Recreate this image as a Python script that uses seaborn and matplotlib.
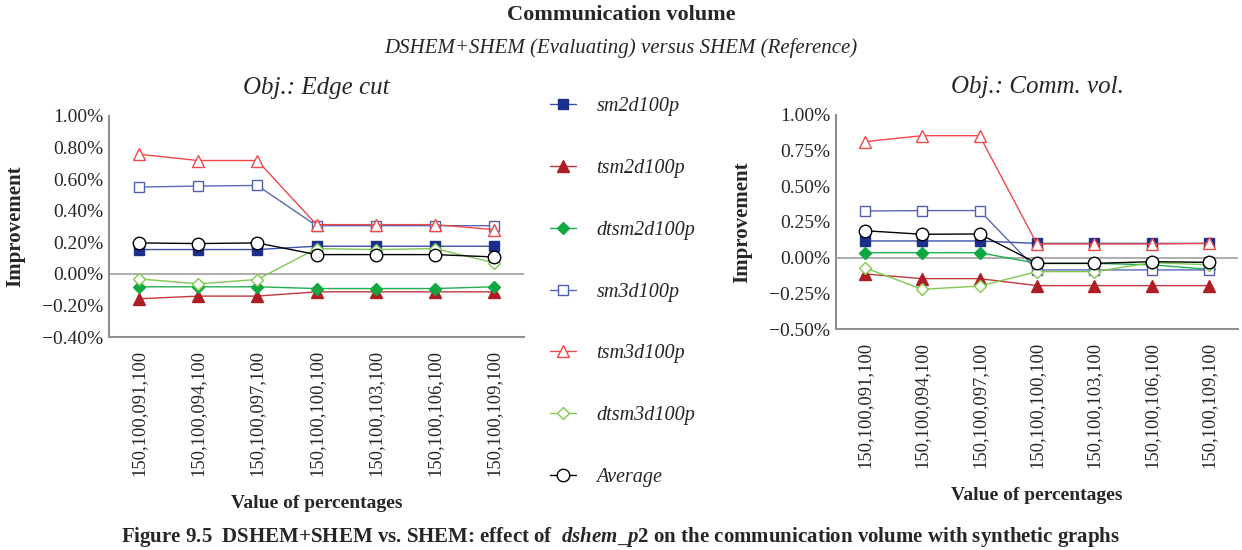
import matplotlib
matplotlib.use("Agg")
import matplotlib.pyplot as plt
import pandas as pd
import seaborn as sns

categories = ["150,100,091,100", "150,100,094,100", "150,100,097,100",
              "150,100,100,100", "150,100,103,100", "150,100,106,100",
              "150,100,109,100"]
series = ["sm2d100p", "tsm2d100p", "dtsm2d100p", "sm3d100p",
          "tsm3d100p", "dtsm3d100p", "Average"]

# improvement in percent, objective: edge cut
edge_sm2d = [0.154, 0.154, 0.154, 0.175, 0.175, 0.175, 0.175]
edge_tsm2d = [-0.158, -0.141, -0.141, -0.114, -0.114, -0.114, -0.114]
edge_dtsm2d = [-0.082, -0.082, -0.082, -0.093, -0.093, -0.093, -0.082]
edge_sm3d = [0.550, 0.556, 0.560, 0.305, 0.305, 0.305, 0.305]
edge_tsm3d = [0.758, 0.718, 0.718, 0.312, 0.312, 0.312, 0.280]
edge_dtsm3d = [-0.032, -0.063, -0.036, 0.160, 0.154, 0.160, 0.070]
edge_avg = [0.196, 0.192, 0.196, 0.122, 0.122, 0.122, 0.107]

# improvement in percent, objective: communication volume
comm_sm2d = [0.117, 0.117, 0.117, 0.100, 0.100, 0.100, 0.100]
comm_tsm2d = [-0.114, -0.147, -0.147, -0.196, -0.196, -0.196, -0.196]
comm_dtsm2d = [0.035, 0.035, 0.035, -0.040, -0.040, -0.050, -0.082]
comm_sm3d = [0.327, 0.330, 0.330, -0.086, -0.086, -0.086, -0.086]
comm_tsm3d = [0.813, 0.855, 0.855, 0.096, 0.096, 0.096, 0.100]
comm_dtsm3d = [-0.070, -0.222, -0.199, -0.098, -0.098, -0.035, -0.050]
comm_avg = [0.189, 0.164, 0.166, -0.040, -0.040, -0.028, -0.033]

edge_values = [edge_sm2d, edge_tsm2d, edge_dtsm2d, edge_sm3d, edge_tsm3d, edge_dtsm3d, edge_avg]
comm_values = [comm_sm2d, comm_tsm2d, comm_dtsm2d, comm_sm3d, comm_tsm3d, comm_dtsm3d, comm_avg]

# (line colour, marker, face colour, edge colour, marker size)
styles = {
    "sm2d100p": ("#3a50a8", "s", "#1c2f8c", "#1c2f8c", 7),
    "tsm2d100p": ("#c0383c", "^", "#b01c24", "#b01c24", 8),
    "dtsm2d100p": ("#20b050", "D", "#10a840", "#10a840", 6.5),
    "sm3d100p": ("#5868b8", "s", "white", "#5060b0", 7),
    "tsm3d100p": ("#f04848", "^", "white", "#f04848", 8),
    "dtsm3d100p": ("#80c850", "D", "white", "#80c850", 6.5),
    "Average": ("#000000", "o", "white", "#000000", 9),
}

SERIF = "Liberation Serif"


def long_df(values):
    rows = []
    for name, vals in zip(series, values):
        for cat, v in zip(categories, vals):
            rows.append({"series": name, "cat": cat, "value": v})
    return pd.DataFrame(rows)


def draw_panel(ax, values, ylim, yticks, title):
    df = long_df(values)
    for name in series:
        line, marker, face, edge, ms = styles[name]
        sns.lineplot(data=df[df["series"] == name], x="cat", y="value",
                     ax=ax, color=line, marker=marker, markersize=ms,
                     markerfacecolor=face, markeredgecolor=edge,
                     markeredgewidth=1.0, linewidth=1.0, label=name,
                     sort=False, legend=False)
    ax.axhline(0, color="#a0a0a0", linewidth=1.2, zorder=0)
    ax.set_xlim(-0.5, 6.5)
    ax.set_ylim(*ylim)
    ax.set_yticks(yticks)
    ax.set_yticklabels([f"{t:.2f}%".replace("-", "\u2212") for t in yticks],
                       family=SERIF, fontsize=14)
    ax.set_xticks(range(len(categories)))
    ax.set_xticklabels(categories, rotation=90, family=SERIF, fontsize=13.3)
    ax.tick_params(axis="x", length=3, color="#909090", pad=6)
    ax.tick_params(axis="y", length=0, pad=4)
    for side in ("top", "right"):
        ax.spines[side].set_visible(False)
    for side in ("left", "bottom"):
        ax.spines[side].set_color("#909090")
        ax.spines[side].set_linewidth(1.5)
    ax.grid(False)
    ax.set_xlabel("Value of percentages", family=SERIF, fontsize=14,
                  fontweight="bold", labelpad=14)
    ax.set_ylabel("Improvement", family=SERIF, fontsize=15, fontweight="bold",
                  labelpad=12)
    ax.set_title(title, family=SERIF, style="italic", fontsize=18, pad=16)


sns.set_theme(style="white")
plt.rcParams["font.family"] = [SERIF, "DejaVu Sans"]
plt.rcParams["mathtext.fontset"] = "custom"
plt.rcParams["mathtext.rm"] = "Liberation Serif:bold"
plt.rcParams["mathtext.it"] = "Liberation Serif:italic:bold"

fig = plt.figure(figsize=(12.42, 5.5), dpi=100)
ax1 = fig.add_axes([109 / 1242, 1 - 337 / 550, 415 / 1242, 221 / 550])
ax2 = fig.add_axes([836 / 1242, 1 - 329 / 550, 402 / 1242, 214 / 550])

draw_panel(ax1, edge_values, (-0.40, 1.00),
           [-0.4, -0.2, 0.0, 0.2, 0.4, 0.6, 0.8, 1.0], "Obj.: Edge cut")
draw_panel(ax2, comm_values, (-0.50, 1.00),
           [-0.5, -0.25, 0.0, 0.25, 0.5, 0.75, 1.0], "Obj.: Comm. vol.")

handles, labels = ax1.get_legend_handles_labels()
fig.legend(handles, labels, loc="upper left", bbox_to_anchor=(532 / 1242, 1 - 79 / 550),
           frameon=False, handlelength=1.3, labelspacing=2.12, handletextpad=1.0,
           prop={"family": SERIF, "style": "italic", "size": 14.5})

fig.text(0.5, 1 - 15 / 550, "Communication volume", ha="center", va="center",
         family=SERIF, fontweight="bold", fontsize=16)
fig.text(0.5, 1 - 48 / 550, "DSHEM+SHEM (Evaluating) versus SHEM (Reference)",
         ha="center", va="center", family=SERIF, style="italic", fontsize=15)
fig.text(0.5, 1 - 549 / 550,
         r"Figure 9.5  DSHEM+SHEM vs. SHEM: effect of  $\mathit{dshem\_p2}$ on the communication volume with synthetic graphs",
         ha="center", va="bottom", family=SERIF, fontweight="bold", fontsize=15)

fig.savefig("out.png", dpi=100)
